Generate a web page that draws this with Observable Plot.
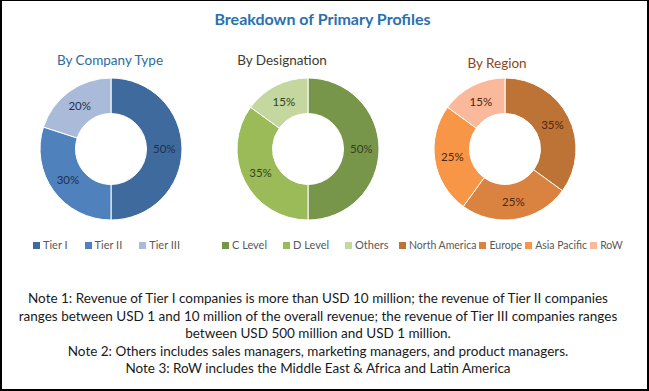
<!DOCTYPE html>
<html><head><meta charset="utf-8">
<script src="https://cdn.jsdelivr.net/npm/d3@7"></script>
<script src="https://cdn.jsdelivr.net/npm/@observablehq/plot@0.6"></script>
<style>
html,body{margin:0;padding:0;background:#fff;}
#frame{position:relative;width:649px;height:391px;overflow:hidden;font-family:Lato,"Open Sans",sans-serif;background:#fff;}
#border{position:absolute;left:0;top:0;width:649px;height:391px;box-sizing:border-box;border-style:solid;border-color:#000;border-width:1px 2px 2px 2px;pointer-events:none;}
.abs{position:absolute;white-space:nowrap;}
#title{left:0;width:645px;top:8px;text-align:center;font-weight:bold;font-size:16px;color:#2a70ae;line-height:22px;}
.sub{top:50px;font-size:13.5px;line-height:20px;transform:translateX(-50%);}
#chart{position:absolute;left:0;top:70px;}
.legend{top:238px;font-size:11px;color:#595959;line-height:14px;display:flex;align-items:center;}
.legend .item{display:flex;align-items:center;}
.legend .sw{width:7px;height:7px;margin-right:3px;display:inline-block;}
#notes{left:0;width:636px;top:290px;text-align:center;font-size:13.5px;line-height:17.5px;color:#1a1a1a;}
</style></head><body>
<div id="frame">
  <div id="title" class="abs"></div>
  <div id="subs"></div>
  <div id="chart"></div>
  <div id="legends"></div>
  <div id="notes" class="abs"></div>
  <div id="border"></div>
</div>
<script>
// ---- data ----
const chartTitle = "Breakdown of Primary Profiles";
const groups = ["By Company Type", "By Designation", "By Region"];
const companyLabels = ["Tier I", "Tier II", "Tier III"];
const companyValues = [50, 30, 20];
const designationLabels = ["C Level", "D Level", "Others"];
const designationValues = [50, 35, 15];
const regionLabels = ["North America", "Europe", "Asia Pacific", "RoW"];
const regionValues = [35, 25, 25, 15];
const noteLines = [
  "Note 1: Revenue of Tier I companies is more than USD 10 million; the revenue of Tier II companies",
  "ranges between USD 1 and 10 million of the overall revenue; the revenue of Tier III companies ranges",
  "between USD 500 million and USD 1 million.",
  "Note 2: Others includes sales managers, marketing managers, and product managers.",
  "Note 3: RoW includes the Middle East & Africa and Latin America"
];

// ---- styles ----
const companyColors = ["#3f6a9e", "#4f81bd", "#a9bbd8"];
const designationColors = ["#78964a", "#9bbb59", "#c4d79e"];
const regionColors = ["#bd7236", "#da8240", "#f79646", "#f9b99a"];
const subColors = ["#2b6aa3", "#3c3c2c", "#8a451a"];
const labelColors = ["#1f3050", "#34421c", "#4e260c"];
const subCenters = [110, 282, 497];
const legendLeft = [33, 222, 399];
const legendGap = [17, 16, 3];
const legendFont = ["11px", "11px", "10.5px"];

const sets = [
  {labels: companyLabels, values: companyValues},
  {labels: designationLabels, values: designationValues},
  {labels: regionLabels, values: regionValues}
];
const rows = sets.flatMap((s, gi) => s.labels.map((label, i) => ({group: groups[gi], label, value: s.values[i]})));
const allLabels = [...companyLabels, ...designationLabels, ...regionLabels];
const allColors = [...companyColors, ...designationColors, ...regionColors];

document.getElementById("title").textContent = chartTitle;

const subs = document.getElementById("subs");
groups.forEach((g, i) => {
  const d = document.createElement("div");
  d.className = "abs sub";
  d.style.left = subCenters[i] + "px";
  if (i === 2) d.style.top = "53px";
  d.style.color = subColors[i];
  d.textContent = g;
  subs.appendChild(d);
});

const outerR = 71, innerR = 35.5, cy = 79;

function donuts(index, scales) {
  const root = d3.create("svg:g");
  groups.forEach((grp, gi) => {
    const slices = rows.filter(r => r.group === grp);
    const arcs = d3.pie().sort(null).value(d => d.value)(slices);
    const arc = d3.arc().innerRadius(innerR).outerRadius(outerR);
    const g = root.append("g").attr("transform", `translate(${scales.x(grp)},${cy})`);
    g.selectAll("path").data(arcs).join("path")
      .attr("d", arc)
      .attr("fill", d => scales.color(d.data.label))
      .attr("stroke", "#fff")
      .attr("stroke-width", 1);
    g.selectAll("text").data(arcs).join("text")
      .attr("transform", d => `translate(${arc.centroid(d)})`)
      .attr("text-anchor", "middle")
      .attr("dy", "0.35em")
      .attr("fill", labelColors[gi])
      .style("font-size", "11.5px")
      .style("font-family", "Lato, sans-serif")
      .text(d => d.data.value + "%");
  });
  return root.node();
}

const plot = Plot.plot({
  width: 649,
  height: 160,
  margin: 0,
  style: {background: "transparent", overflow: "visible"},
  x: {type: "point", domain: groups, range: [111, 505], padding: 0, axis: null},
  y: {axis: null},
  color: {domain: allLabels, range: allColors},
  marks: [
    Plot.dot(rows, {x: "group", fill: "label", r: 0}),
    donuts
  ]
});
document.getElementById("chart").appendChild(plot);

const legends = document.getElementById("legends");
sets.forEach((s, gi) => {
  const row = document.createElement("div");
  row.className = "abs legend";
  row.style.left = legendLeft[gi] + "px";
  row.style.gap = legendGap[gi] + "px";
  row.style.fontSize = legendFont[gi];
  s.labels.forEach((label) => {
    const it = document.createElement("div");
    it.className = "item";
    const sw = document.createElement("span");
    sw.className = "sw";
    sw.style.background = allColors[allLabels.indexOf(label)];
    const tx = document.createElement("span");
    tx.textContent = label;
    it.appendChild(sw); it.appendChild(tx);
    row.appendChild(it);
  });
  legends.appendChild(row);
});

const notes = document.getElementById("notes");
noteLines.forEach(line => {
  const d = document.createElement("div");
  d.textContent = line;
  notes.appendChild(d);
});
</script>
</body></html>
